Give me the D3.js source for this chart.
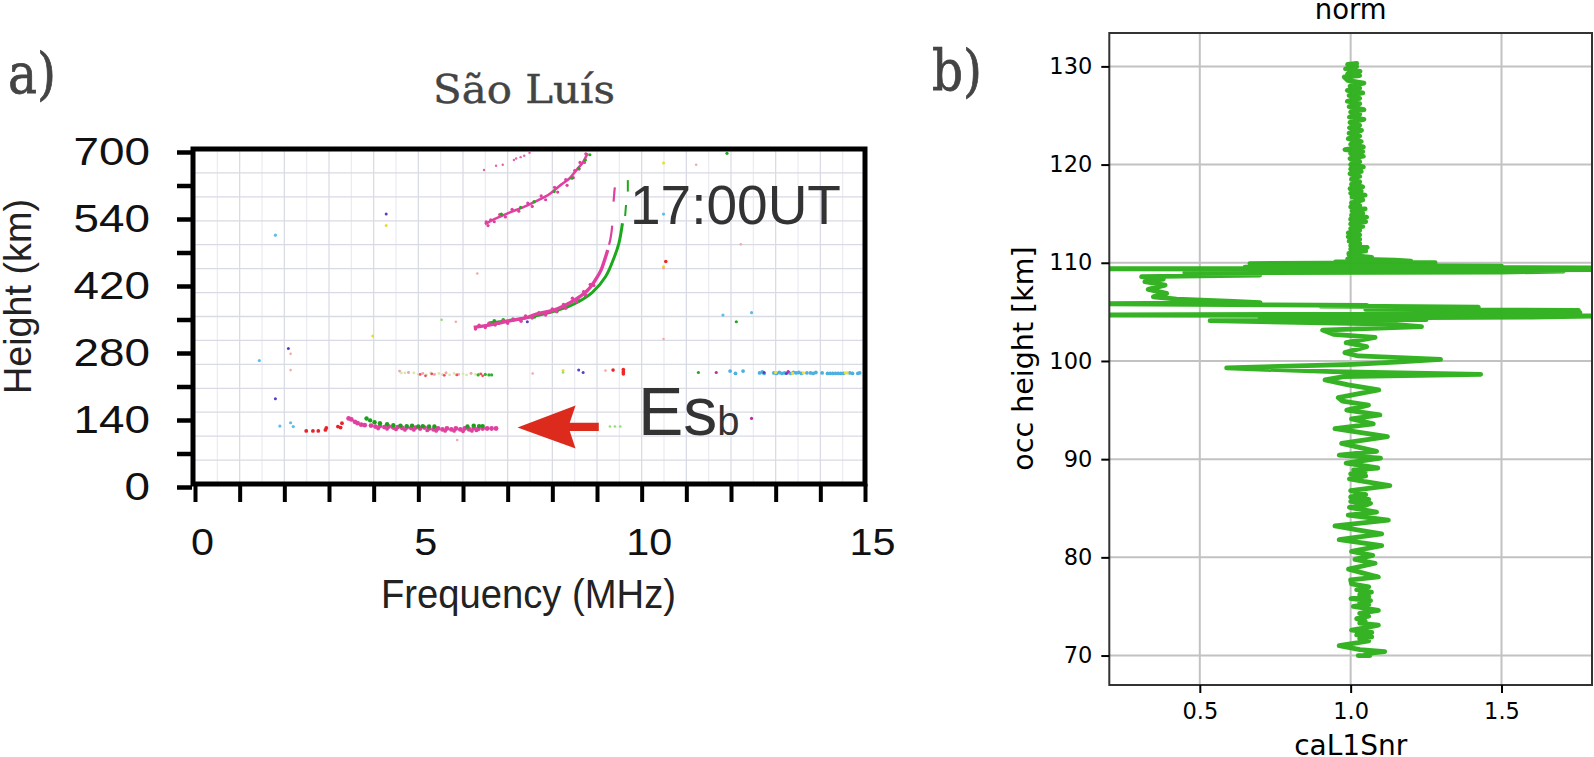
<!DOCTYPE html>
<html><head><meta charset="utf-8">
<script src="https://cdn.jsdelivr.net/npm/d3@7/dist/d3.min.js"></script>
<style>html,body{margin:0;padding:0;background:#fff;overflow:hidden}svg{display:block}</style>
</head><body><svg id="c" width="1594" height="757"></svg>
<script>
// ---------- panel a: ionogram values [MHz, km] ----------
const freqTicks = d3.range(0, 16);
const freqLabels = [0, 5, 10, 15];
const heightTicks = [0, 70, 140, 210, 280, 350, 420, 490, 560, 630, 700];
const heightLabels = {0:"0", 140:"140", 280:"280", 420:"420", 560:"540", 700:"700"};
const gridFreq = d3.range(0.5, 15, 0.5);
const gridHeight = d3.range(50, 700, 50);

const f2Magenta = [[6.24,327],[6.44,330],[6.64,333],[6.84,337],[7.04,341],[7.24,344],[7.44,348],[7.64,355],[7.94,361],[8.14,367],[8.34,376],[8.49,384],[8.64,393],[8.79,405],[8.89,416],[8.99,430],[9.09,447],[9.17,468],[9.24,489]];
const f2MagentaTop = [[9.27,500],[9.30,512],[9.33,530],[9.34,540],[9.37,590],[9.38,600],[9.39,612],[9.40,620]];
const f2MagentaRough = [[6.28,324],[6.36,332],[6.5,327],[6.58,336],[6.72,332],[6.9,341],[7.0,336],[7.12,345],[7.3,340],[7.4,351],[7.55,347],[7.7,358],[7.85,353],[8.0,366],[8.1,360],[8.25,375],[8.3,367],[8.45,388],[8.55,381],[8.7,402],[8.75,395],[8.85,417],[8.93,415]];
const f2Green = [[6.59,337],[7.14,343],[7.94,358],[8.44,374],[8.89,400],[9.19,433],[9.39,475],[9.49,503],[9.57,545]];
const f2GreenTop = [[9.63,560],[9.64,572],[9.65,583],[9.69,611],[9.69,623],[9.69,635]];
const f2GreenRough = [[6.7,341],[6.8,336],[6.9,343],[7.0,338],[7.3,344],[7.6,349],[8.1,361],[8.3,369],[8.6,383],[8.75,392]];
const f3Magenta = [[6.49,543],[6.74,555],[7.04,567],[7.34,578],[7.64,591],[7.94,606],[8.19,625],[8.39,639],[8.54,656],[8.69,673],[8.79,691]];
const f3MagentaRough = [[6.52,548],[6.56,540],[6.62,552],[6.7,548],[6.82,563],[6.95,558],[7.1,574],[7.25,570],[7.45,587],[7.55,580],[7.75,602],[7.85,594],[8.05,620],[8.12,610],[8.3,636],[8.33,624],[8.5,655],[8.47,640],[8.62,672],[8.6,658],[8.75,690],[8.72,672]];
const f3Green = [[6.86,564],[7.29,578],[7.59,590],[8.04,611],[8.44,639],[8.59,660],[8.74,677],[8.84,688]];
const f3Sparse = [[6.47,656],[6.74,665],[6.89,667],[7.14,677],[7.19,680],[7.29,683],[7.37,686],[7.49,692]];
const esMagenta = [[3.44,137],[3.50,135],[3.58,130],[3.64,127],[3.72,124],[3.80,123],[3.94,122],[4.04,120],[4.14,121],[4.24,119],[4.34,120],[4.44,118],[4.54,119],[4.64,117],[4.74,118],[4.84,117],[4.94,118],[5.04,116],[5.14,118],[5.24,116],[5.34,114],[5.44,116],[5.54,114],[5.64,116],[5.74,114],[5.84,116],[5.94,114],[6.04,116],[6.14,114],[6.24,117],[6.34,115],[6.44,116],[6.54,116],[6.64,116],[6.74,116]];
const esMagentaLow = [[4.10,116],[4.30,115],[4.50,114],[4.70,113],[4.90,113],[5.20,112],[5.40,111],[5.60,111],[5.80,111],[6.00,110],[6.20,111],[6.30,112]];
const esGreen = [[3.84,137],[3.92,133],[4.02,129],[4.14,127],[4.30,125],[4.44,123],[4.60,122],[4.74,121],[4.86,122],[5.00,120],[5.10,121],[5.24,120],[5.36,120],[6.10,120],[6.24,122],[6.36,121],[6.44,121]];
const esRed = [[2.49,111],[2.64,111],[2.76,111],[2.92,113],[2.94,117],[3.20,120],[3.26,118],[3.29,127]];
const band240Pale = [[4.58,236],[4.62,232],[4.70,232],[4.78,233],[4.90,232],[5.00,229],[5.10,231],[5.18,228],[5.28,232],[5.36,229],[5.46,231],[5.54,229],[5.62,232],[5.70,228],[5.80,231],[5.90,229],[6.00,230],[6.08,228],[6.18,231],[6.28,229],[6.36,230]];
const band240Red = [[5.04,229],[5.16,226],[5.30,230],[5.58,227],[5.86,228],[6.40,230],[6.44,226]];
const band240Green = [[6.34,228],[6.50,229],[6.58,228],[6.64,228]];
const blueBand = [[11.98,236],[12.10,231],[12.27,236],[12.64,232],[12.70,234],[12.74,231],[12.96,232],[13.02,231],[13.08,233],[13.14,231],[13.20,232],[13.28,233],[13.34,231],[13.40,233],[13.46,232],[13.52,233],[13.58,231],[13.70,232],[13.78,232],[13.84,231],[13.90,233],[14.04,232],[14.16,231],[14.22,231],[14.28,231],[14.34,231],[14.40,231],[14.46,231],[14.52,231],[14.66,232],[14.72,231],[14.84,231],[14.88,232]];
const yellowBand = [[13.00,233],[13.38,231],[13.62,232],[14.56,232],[14.60,232]];
const purpleDots = [[4.28,564],[7.44,339],[2.09,283],[1.80,178],[8.59,238],[8.69,233],[12.74,233],[13.24,231]];
const cyanDots = [[1.80,520],[10.49,564],[1.44,258],[1.90,121],[2.14,128],[2.20,120],[11.82,353],[12.46,358]];
const yellowDots = [[4.28,540],[10.49,671],[3.98,309],[10.49,454],[8.24,237]];
const paleRedDots = [[11.22,667],[12.22,501],[10.49,451],[10.49,303],[2.14,272],[2.14,238],[5.87,92],[7.56,231],[5.84,339],[9.19,237],[6.32,440]];
const brightRedDots = [[10.54,465],[9.36,238],[9.59,230],[9.59,233],[9.59,236],[9.59,239]];
const paleGreenDots = [[5.52,343],[9.29,120],[9.52,120],[9.40,120],[8.24,233]];
const greenDots = [[11.91,691],[12.12,339],[11.27,233]];
const pinkDots = [[12.46,137],[11.67,233],[13.28,235]];
const esArrow = [[7.22,118],[8.52,164],[8.39,128],[9.04,128],[9.04,111],[8.39,111],[8.52,74]];

// ---------- panel b: occultation profile [km, caL1Snr], bottom to top ----------
const snrTicksX = [0.5, 1.0, 1.5];
const snrTicksY = [70, 80, 90, 100, 110, 120, 130];
const snrLow = [[70.0,1.025],[70.0,1.064],[70.2,1.05],[70.4,1.113],[70.6,1.031],[71.0,0.962],[71.3,1.020],[71.5,1.06],[71.7,1.03],[71.9,1.07],[72.1,1.02],[72.35,1.07],[72.6,1.003],[72.8,1.042],[73.1,1.092],[73.3,1.03],[73.5,1.048],[73.75,1.02],[74.0,1.06],[74.3,1.03],[74.6,1.092],[75.0,1.009],[75.2,1.06],[75.4,1.03],[75.6,1.066],[75.8,1.001],[76.0,1.06],[76.2,1.03],[76.45,1.069],[76.7,1.02],[77.0,1.06],[77.3,1.003],[77.7,1.0],[78.0,1.092],[78.4,1.042],[78.8,0.993],[79.4,1.081],[79.8,1.014],[80.2,1.073],[80.6,1.003],[81.2,1.103],[81.8,0.962],[82.4,1.103],[82.8,1.022],[83.2,0.948],[83.8,1.125],[84.3,0.992],[84.6,1.086],[85.1,0.996],[85.3,1.05],[85.5,1.066],[85.7,1.0],[85.9,1.06],[86.15,1.0],[86.4,1.05],[86.8,1.0],[87.3,1.130],[87.7,1.048],[88.0,0.996],[88.3,1.05],[88.5,1.0],[88.7,1.048],[88.9,1.01],[89.1,1.090],[89.6,0.985],[90.1,1.099],[90.4,0.962],[90.8,1.086],[91.6,0.970],[92.3,1.122],[93.1,0.948],[93.6,1.075],[94.1,1.003],[94.5,1.097],[95.0,0.987],[95.5,1.059],[95.9,0.973]];
const snrMid = [[96.27,0.959],[97.05,1.093],[97.56,0.992],[98.07,0.915],[98.41,0.976],[98.64,1.431],[98.92,0.943],[99.29,0.589],[99.66,1.009],[99.9,1.164],[100.17,1.298],[100.51,1.025],[100.85,0.981],[101.46,1.053],[101.86,0.985],[102.41,1.081],[102.71,0.943],[103.15,0.907],[103.49,1.235],[103.76,1.13],[104.10,0.534],[104.2,1.25],[104.34,0.7],[104.46,1.6],[104.58,1.83],[104.68,0.17],[104.8,1.5],[104.92,1.76],[105.0,1.1],[105.05,1.4],[105.15,1.755],[105.25,1.05],[105.32,1.4],[105.49,1.423],[105.6,0.9],[105.66,1.053],[105.83,0.158],[105.95,0.7],[106.07,0.611],[106.3,0.423],[106.54,0.346],[106.88,0.39],[107.29,0.329],[107.73,0.385],[108.07,0.318],[108.34,0.379],[108.58,0.307],[108.75,0.699],[108.98,0.45],[109.05,1.5],[109.15,1.705],[109.22,0.9],[109.3,1.82],[109.39,0.147],[109.48,1.82],[109.56,0.65],[109.66,1.5],[109.75,0.7],[109.83,1.274],[109.92,0.666],[110.0,1.28],[110.08,0.95],[110.17,1.2],[110.27,1.147],[110.4,0.99],[110.54,1.07],[110.78,0.995]];
const snrHigh = [[110.95,0.994],[111.2,1.05],[111.4,1.0],[111.56,1.055],[111.75,1.0],[111.97,1.03],[112.2,0.995],[112.4,1.03],[112.64,0.992],[112.85,1.03],[113.05,0.992],[113.3,1.03],[113.49,1.0],[113.7,1.04],[113.95,1.0],[114.2,1.05],[114.44,1.0],[114.65,1.053],[114.85,1.003],[115.05,1.04],[115.29,1.005],[115.5,1.048],[115.7,1.0],[115.86,1.03],[116.1,1.003],[116.4,1.04],[116.71,1.005],[116.9,1.048],[117.1,1.0],[117.32,1.035],[117.55,0.998],[117.73,1.04],[118.0,1.003],[118.24,1.03],[118.5,1.003],[118.8,1.03],[119.08,0.998],[119.3,1.035],[119.55,1.0],[119.76,1.042],[120.0,1.0],[120.3,1.03],[120.61,0.998],[120.85,1.042],[121.12,1.0],[121.33,1.04],[121.53,0.981],[121.8,1.042],[122.07,1.0],[122.35,1.035],[122.64,0.992],[122.9,1.03],[123.2,0.995],[123.49,1.036],[123.75,0.996],[124.0,1.03],[124.3,0.998],[124.61,1.044],[124.85,0.996],[125.12,1.03],[125.35,1.0],[125.59,1.044],[125.9,0.995],[126.2,1.03],[126.45,0.989],[126.75,1.03],[127.05,0.995],[127.3,1.04],[127.56,0.989],[127.8,1.03],[128.0,0.998],[128.3,1.044],[128.58,0.99],[128.92,0.979],[129.05,1.03],[129.25,0.99],[129.5,1.031],[129.76,0.983],[130.0,1.02],[130.2,0.99],[130.3,1.02]];

const svg = d3.select("#c");
const sans = "'Liberation Sans',Arial,sans-serif";
const dejavu = "'DejaVu Sans',sans-serif";

// ===== panel a =====
const xA = d3.scaleLinear().domain([0,15]).range([195,865]);
const yA = d3.scaleLinear().domain([0,700]).range([484,149]);
const defs = svg.append("defs");
defs.append("filter").attr("id","soft").append("feGaussianBlur").attr("stdDeviation",0.55);
defs.append("clipPath").attr("id","clipA").append("rect").attr("x",195).attr("y",149).attr("width",670).attr("height",335);
defs.append("clipPath").attr("id","clipB").append("rect").attr("x",1109.3).attr("y",33).attr("width",482.7).attr("height",652);

const a = svg.append("g");
a.append("g").selectAll("line").data(gridFreq).join("line")
  .attr("x1",d=>xA(d)).attr("x2",d=>xA(d)).attr("y1",149).attr("y2",484)
  .attr("stroke",(d,i)=>i%2?"#d8dae4":"#eaebf0").attr("stroke-width",1.2);
a.append("g").selectAll("line").data(gridHeight).join("line")
  .attr("x1",195).attr("x2",865).attr("y1",d=>yA(d)).attr("y2",d=>yA(d))
  .attr("stroke","#d8dae4").attr("stroke-width",1.3);

const marks = a.append("g").attr("clip-path","url(#clipA)").attr("filter","url(#soft)");
const line = d3.line().x(d=>xA(d[0])).y(d=>yA(d[1])).curve(d3.curveCatmullRom);
function trace(data,color,w){ marks.append("path").datum(data).attr("d",line).attr("fill","none").attr("stroke",color).attr("stroke-width",w); }
function dots(data,color,r){ marks.append("g").selectAll("circle").data(data).join("circle")
  .attr("cx",d=>xA(d[0])).attr("cy",d=>yA(d[1])).attr("r",r).attr("fill",color); }
trace(f2Green,"#1fa81c",3);
dots(f2GreenRough,"#1fa81c",1.8);
trace(f2GreenTop.slice(0,3),"#1fa81c",2);
trace(f2GreenTop.slice(3),"#1fa81c",2);
trace(f2Magenta,"#e0409f",3.4);
dots(f2MagentaRough,"#e0409f",1.7);
trace(f2MagentaTop.slice(0,4),"#e0409f",2.2);
trace(f2MagentaTop.slice(4),"#e0409f",2.2);
trace(f3Magenta,"#e0409f",2.6);
dots(f3MagentaRough,"#e0409f",1.6);
dots(f3Green,"#22a81e",1.6);
dots(f3Sparse,"#e860a8",1.2);
dots(esMagenta,"#e0409f",2.4);
dots(esMagentaLow,"#e0409f",1.9);
dots(esGreen,"#1f9f1f",2.2);
dots(esRed,"#e8202c",1.9);
dots(band240Pale,"#d8e8a8",1.4);
dots(band240Pale.filter((d,i)=>i%3==0),"#f4a0c0",1.4);
dots(band240Red,"#ee5060",1.4);
dots(band240Green,"#30b030",1.6);
dots(blueBand,"#4fb0e0",1.9);
dots(yellowBand,"#e8e040",1.6);
dots(purpleDots,"#5a3cc0",1.5);
dots(cyanDots,"#60bce8",1.6);
dots(yellowDots,"#e8dc30",1.5);
dots(paleRedDots,"#f6a8a8",1.3);
dots(brightRedDots,"#f02828",1.8);
dots(paleGreenDots,"#90e070",1.3);
dots(greenDots,"#22a81e",1.6);
dots(pinkDots,"#c02ca8",1.6);

a.append("rect").attr("x",xA(0)-2).attr("y",yA(700)).attr("width",xA(15)-xA(0)+2).attr("height",yA(0)-yA(700))
  .attr("fill","none").attr("stroke","#000").attr("stroke-width",5);

const axYA = a.append("g").attr("transform","translate(192,3)")
  .call(d3.axisLeft(yA).tickValues(heightTicks).tickSize(15).tickPadding(27).tickFormat(d=>heightLabels[d]||""));
axYA.select(".domain").remove();
axYA.selectAll("line").attr("stroke","#000").attr("stroke-width",4.5);
axYA.selectAll("text").attr("font-family",sans).attr("font-size",38).attr("fill","#111")
  .attr("textLength",d=>heightLabels[d]?heightLabels[d].length*25.5:null).attr("lengthAdjust","spacingAndGlyphs");

const axXA = a.append("g").attr("transform","translate(0,484)")
  .call(d3.axisBottom(xA).tickValues(freqTicks).tickSize(18).tickPadding(0).tickFormat(d=>freqLabels.includes(d)?d:""));
axXA.select(".domain").remove();
axXA.selectAll("line").attr("stroke","#000").attr("stroke-width",4);
axXA.selectAll("text").attr("font-family",sans).attr("font-size",36).attr("fill","#111")
  .attr("y",71).attr("dy",0).attr("dx",7)
  .attr("textLength",d=>String(d).length*23).attr("lengthAdjust","spacingAndGlyphs");

a.append("polygon").attr("points",esArrow.map(d=>[xA(d[0]),yA(d[1])].join(",")).join(" ")).attr("fill","#dc2c1c").attr("filter","url(#soft)");

a.append("text").attr("x",630).attr("y",224).attr("font-family",sans).attr("font-size",55).attr("fill","#333").text("17:00UT");
const es = a.append("text").attr("x",638).attr("y",435).attr("font-family",sans).attr("fill","#333").attr("font-size",68);
es.append("tspan").text("Es");
es.append("tspan").attr("font-size",40).text("b");
a.append("text").attr("x",381).attr("y",608).attr("font-family",sans).attr("font-size",40).attr("fill","#222")
  .attr("textLength",295).attr("lengthAdjust","spacingAndGlyphs").text("Frequency (MHz)");
a.append("text").attr("transform","translate(31,394) rotate(-90)").attr("font-family",sans).attr("font-size",39).attr("fill","#222")
  .attr("textLength",195).attr("lengthAdjust","spacingAndGlyphs").text("Height (km)");
a.append("text").attr("x",433).attr("y",103).attr("font-family","'DejaVu Serif',serif").attr("font-size",39).attr("fill","#444").attr("stroke","#444").attr("stroke-width",0.4)
  .attr("textLength",182).attr("lengthAdjust","spacingAndGlyphs").text("São Luís");
a.append("text").attr("x",8).attr("y",93).attr("font-family","'DejaVu Serif',serif").attr("font-size",56).attr("fill","#444").attr("stroke","#444").attr("stroke-width",0.8)
  .attr("textLength",48).attr("lengthAdjust","spacingAndGlyphs").text("a)");

// ===== panel b =====
const xB = d3.scaleLinear().domain([0.2,1.8]).range([1109.3,1592]);
const yB = d3.scaleLinear().domain([67,133.4]).range([685,33]);
const b = svg.append("g");
b.append("g").selectAll("line").data(snrTicksX).join("line")
  .attr("x1",d=>xB(d)).attr("x2",d=>xB(d)).attr("y1",33).attr("y2",685).attr("stroke","#c2c2c2").attr("stroke-width",2);
b.append("g").selectAll("line").data(snrTicksY).join("line")
  .attr("x1",1109.3).attr("x2",1592).attr("y1",d=>yB(d)).attr("y2",d=>yB(d)).attr("stroke","#c2c2c2").attr("stroke-width",2);
const snr = snrLow.concat(snrMid, snrHigh);
b.append("path").datum(snr).attr("clip-path","url(#clipB)")
  .attr("d",d3.line().x(d=>xB(d[1])).y(d=>yB(d[0])))
  .attr("fill","none").attr("stroke","#2db01b").attr("stroke-width",4.8).attr("stroke-linejoin","round").attr("stroke-linecap","round").attr("opacity",0.96);
b.append("rect").attr("x",1109.3).attr("y",33).attr("width",482.7).attr("height",652).attr("fill","none").attr("stroke","#333").attr("stroke-width",2);

const axYB = b.append("g").attr("transform","translate(1109.3,0)")
  .call(d3.axisLeft(yB).tickValues(snrTicksY).tickSize(8).tickPadding(9));
axYB.select(".domain").remove();
axYB.selectAll("line").attr("stroke","#000").attr("stroke-width",2);
axYB.selectAll("text").attr("font-family",dejavu).attr("font-size",22.5).attr("fill","#000");
const axXB = b.append("g").attr("transform","translate(0,685)")
  .call(d3.axisBottom(xB).tickValues(snrTicksX).tickSize(8).tickPadding(10).tickFormat(d3.format(".1f")));
axXB.select(".domain").remove();
axXB.selectAll("line").attr("stroke","#000").attr("stroke-width",2);
axXB.selectAll("text").attr("font-family",dejavu).attr("font-size",22.5).attr("fill","#000");

b.append("text").attr("x",1350.7).attr("y",19).attr("text-anchor","middle").attr("font-family",dejavu).attr("font-size",27.5).text("norm");
b.append("text").attr("x",1350.7).attr("y",755).attr("text-anchor","middle").attr("font-family",dejavu).attr("font-size",28).text("caL1Snr");
b.append("text").attr("transform","translate(1033,358.5) rotate(-90)").attr("text-anchor","middle").attr("font-family",dejavu).attr("font-size",28.5).text("occ height [km]");
b.append("text").attr("x",932).attr("y",90).attr("font-family","'DejaVu Serif',serif").attr("font-size",56).attr("fill","#444").attr("stroke","#444").attr("stroke-width",0.8)
  .attr("textLength",50).attr("lengthAdjust","spacingAndGlyphs").text("b)");
</script></body></html>
